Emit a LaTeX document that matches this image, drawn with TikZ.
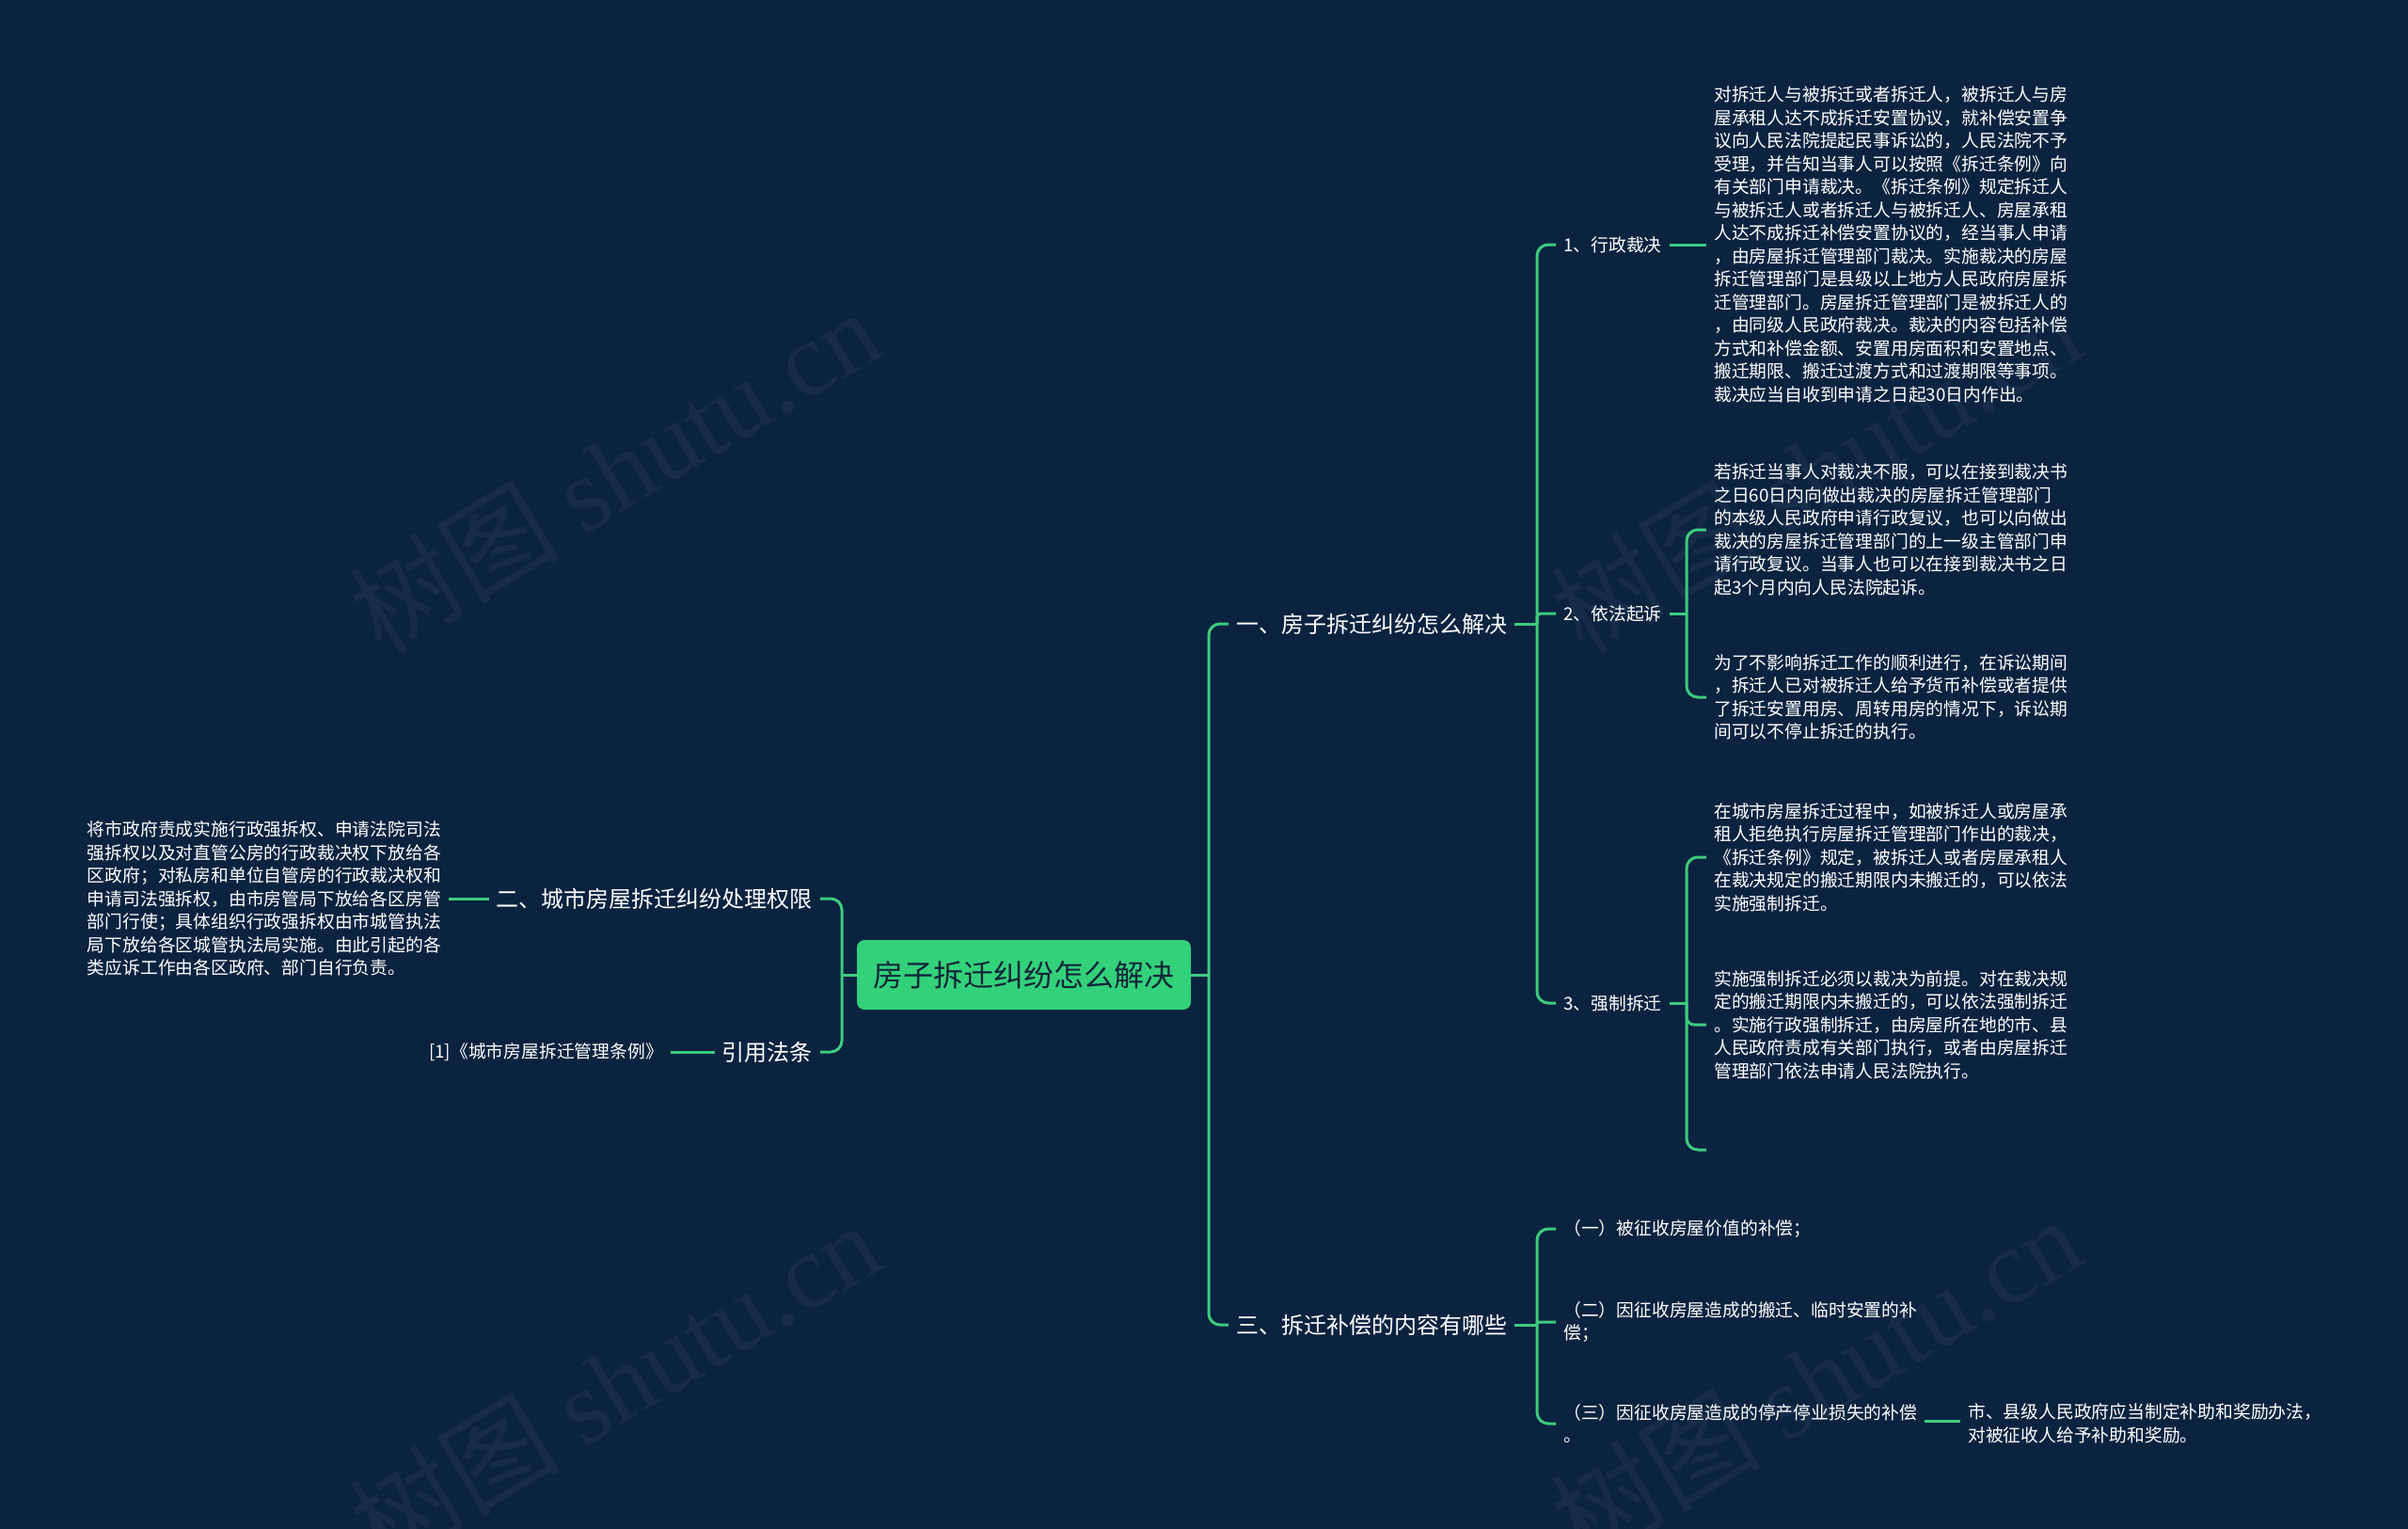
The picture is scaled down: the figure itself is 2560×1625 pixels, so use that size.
\documentclass[tikz,border=0pt]{standalone}
\usepackage{fontspec}
\setmainfont{Noto Sans CJK SC}
\newfontfamily\wmlatin{Liberation Serif}
\usetikzlibrary{calc}
\definecolor{bg}{HTML}{0C2340}
\definecolor{gline}{HTML}{3DCB7E}
\definecolor{groot}{HTML}{33D17A}
\definecolor{rtext}{HTML}{13263A}
\begin{document}
\begin{tikzpicture}[x=1pt,y=-1pt,
  conn/.style={draw=gline, line width=3pt, rounded corners=12pt},
  leaf/.style={text=white, font=\fontsize{18.8}{24.5}\selectfont, align=left, inner xsep=8pt, inner ysep=0pt},
  mid/.style={text=white, font=\fontsize{18.8}{24}\selectfont, inner xsep=8pt, inner ysep=2pt},
  mainb/.style={text=white, font=\fontsize{24}{30}\selectfont, inner xsep=8pt, inner ysep=2pt},
  rootb/.style={fill=groot, rounded corners=8pt, text=rtext, font=\fontsize{32}{38}\selectfont, minimum width=355pt, minimum height=74pt, inner sep=0pt},
  wm/.style={text=white, opacity=0.045, font=\fontsize{112}{112}\selectfont, inner sep=0pt}]
\path[fill=bg] (0,0) rectangle (2560,1625);
\useasboundingbox (0,0) rectangle (2560,1625);

% watermarks
\node[wm, rotate=31] (wm1) at (653,500) {树图 {\wmlatin shutu.cn}};
\node[wm, rotate=31] (wm2) at (653,1470) {树图 {\wmlatin shutu.cn}};
\node[wm, rotate=31] (wm3) at (1930,500) {树图 {\wmlatin shutu.cn}};
\node[wm, rotate=31] (wm4) at (1930,1465) {树图 {\wmlatin shutu.cn}};

% root
\node[rootb] (root) at (1088.5,1036) {房子拆迁纠纷怎么解决};

% left side
\node[mainb, anchor=east] (L1) at (872,955) {二、城市房屋拆迁纠纷处理权限};
\node[mainb, anchor=east] (L2) at (872,1118) {引用法条};
\node[leaf, anchor=east] (LL1) at (477,955) {将市政府责成实施行政强拆权、申请法院司法\\强拆权以及对直管公房的行政裁决权下放给各\\区政府；对私房和单位自管房的行政裁决权和\\申请司法强拆权，由市房管局下放给各区房管\\部门行使；具体组织行政强拆权由市城管执法\\局下放给各区城管执法局实施。由此引起的各\\类应诉工作由各区政府、部门自行负责。};
\node[leaf, anchor=east] (LL2) at (713,1118) {[1]《城市房屋拆迁管理条例》};

\coordinate (rootL) at (895,1036);
\draw[conn] (root.west) -- (rootL);
\draw[conn] (rootL) |- (L1.east);
\draw[conn] (rootL) |- (L2.east);
\draw[conn] (L1.west) -- (LL1.east);
\draw[conn] (L2.west) -- (LL2.east);

% right side main
\node[mainb, anchor=west] (R1) at (1306,663) {一、房子拆迁纠纷怎么解决};
\node[mainb, anchor=west] (R2) at (1306,1408) {三、拆迁补偿的内容有哪些};
\coordinate (rootR) at (1285,1036);
\draw[conn] (root.east) -- (rootR);
\draw[conn] (rootR) |- (R1.west);
\draw[conn] (rootR) |- (R2.west);

% level 2 under R1
\node[mid, anchor=west] (A1) at (1654,260) {1、行政裁决};
\node[mid, anchor=west] (A2) at (1654,652) {2、依法起诉};
\node[mid, anchor=west] (A3) at (1654,1066) {3、强制拆迁};
\coordinate (r1b) at (1634,663);
\draw[conn] (R1.east) -- (r1b);
\draw[conn] (r1b) |- (A1.west);
\draw[conn, rounded corners=4pt] (r1b) |- (A2.west);
\draw[conn] (r1b) |- (A3.west);

% leaves of A1
\node[leaf, anchor=west] (A1L) at (1814,260) {对拆迁人与被拆迁或者拆迁人，被拆迁人与房\\屋承租人达不成拆迁安置协议，就补偿安置争\\议向人民法院提起民事诉讼的，人民法院不予\\受理，并告知当事人可以按照《拆迁条例》向\\有关部门申请裁决。《拆迁条例》规定拆迁人\\与被拆迁人或者拆迁人与被拆迁人、房屋承租\\人达不成拆迁补偿安置协议的，经当事人申请\\，由房屋拆迁管理部门裁决。实施裁决的房屋\\拆迁管理部门是县级以上地方人民政府房屋拆\\迁管理部门。房屋拆迁管理部门是被拆迁人的\\，由同级人民政府裁决。裁决的内容包括补偿\\方式和补偿金额、安置用房面积和安置地点、\\搬迁期限、搬迁过渡方式和过渡期限等事项。\\裁决应当自收到申请之日起30日内作出。};
\draw[conn] (A1.east) -- (A1L.west);

% leaves of A2
\node[leaf, anchor=west] (A2a) at (1814,563) {若拆迁当事人对裁决不服，可以在接到裁决书\\之日60日内向做出裁决的房屋拆迁管理部门\\的本级人民政府申请行政复议，也可以向做出\\裁决的房屋拆迁管理部门的上一级主管部门申\\请行政复议。当事人也可以在接到裁决书之日\\起3个月内向人民法院起诉。};
\node[leaf, anchor=west] (A2b) at (1814,741) {为了不影响拆迁工作的顺利进行，在诉讼期间\\，拆迁人已对被拆迁人给予货币补偿或者提供\\了拆迁安置用房、周转用房的情况下，诉讼期\\间可以不停止拆迁的执行。};
\coordinate (a2b) at (1793,652);
\draw[conn] (A2.east) -- (a2b);
\draw[conn] (a2b) |- (A2a.west);
\draw[conn] (a2b) |- (A2b.west);

% leaves of A3
\node[leaf, anchor=west] (A3a) at (1814,911) {在城市房屋拆迁过程中，如被拆迁人或房屋承\\租人拒绝执行房屋拆迁管理部门作出的裁决，\\《拆迁条例》规定，被拆迁人或者房屋承租人\\在裁决规定的搬迁期限内未搬迁的，可以依法\\实施强制拆迁。};
\node[leaf, anchor=west] (A3b) at (1814,1089) {实施强制拆迁必须以裁决为前提。对在裁决规\\定的搬迁期限内未搬迁的，可以依法强制拆迁\\。实施行政强制拆迁，由房屋所在地的市、县\\人民政府责成有关部门执行，或者由房屋拆迁\\管理部门依法申请人民法院执行。};
\coordinate (A3c) at (1814,1222);
\coordinate (a3b) at (1793,1066);
\draw[conn] (A3.east) -- (a3b);
\draw[conn] (a3b) |- (A3a.west);
\draw[conn, rounded corners=8pt] (a3b) |- (A3b.west);
\draw[conn] (a3b) |- (A3c);

% level 2 under R2
\node[leaf, anchor=west] (B1) at (1654,1306) {（一）被征收房屋价值的补偿；};
\node[leaf, anchor=west] (B2) at (1654,1405) {（二）因征收房屋造成的搬迁、临时安置的补\\偿；};
\node[leaf, anchor=west] (B3) at (1654,1513) {（三）因征收房屋造成的停产停业损失的补偿\\。};
\coordinate (r2b) at (1634,1408);
\draw[conn] (R2.east) -- (r2b);
\draw[conn] (r2b) |- (B1.west);
\draw[conn, rounded corners=1pt] (r2b) |- (B2.west);
\draw[conn] (r2b) |- (B3.west);

\node[leaf, anchor=west] (B3L) at (2084,1513) {市、县级人民政府应当制定补助和奖励办法，\\对被征收人给予补助和奖励。};
\draw[conn] ($(B3.east)+(0,-3)$) -- ($(B3L.west)+(0,-3)$);
\end{tikzpicture}
\end{document}
